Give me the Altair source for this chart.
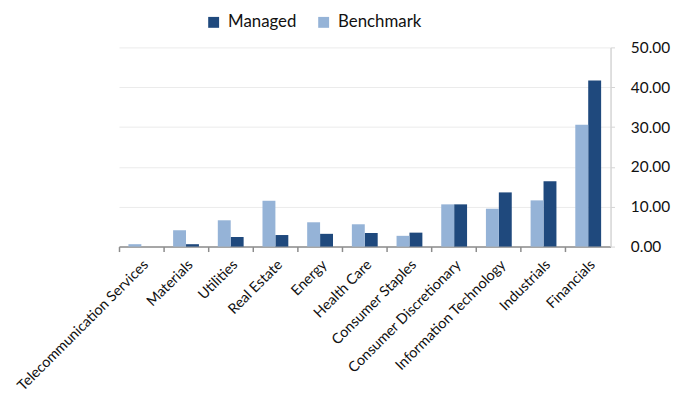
import altair as alt
import pandas as pd

sectors = ["Telecommunication Services", "Materials", "Utilities", "Real Estate", "Energy",
           "Health Care", "Consumer Staples", "Consumer Discretionary",
           "Information Technology", "Industrials", "Financials"]
managed = [0.0, 0.6, 2.4, 2.9, 3.2, 3.4, 3.5, 10.6, 13.6, 16.4, 41.7]
benchmark = [0.6, 4.1, 6.6, 11.5, 6.1, 5.6, 2.7, 10.6, 9.5, 11.6, 30.6]
series = ["Managed", "Benchmark"]
y_ticks = [0, 10, 20, 30, 40, 50]

rows = []
for s, m, b in zip(sectors, managed, benchmark):
    rows.append({"Sector": s, "Series": "Managed", "Value": m})
    rows.append({"Sector": s, "Series": "Benchmark", "Value": b})
df = pd.DataFrame(rows)

FONT = "Lato"

chart = alt.Chart(df).mark_bar().encode(
    x=alt.X("Sector:N", sort=sectors,
            scale=alt.Scale(paddingInner=0, paddingOuter=0),
            axis=alt.Axis(title=None, labelAngle=-45, bandPosition=0, ticks=True,
                          tickSize=5, tickColor="#8c8c8c", domainColor="#8c8c8c",
                          domainWidth=1.5, tickWidth=1.5, grid=False, labelFontSize=14.5,
                          labelColor="#111111", labelFont=FONT, labelPadding=6)),
    xOffset=alt.XOffset("Series:N", sort=["Benchmark", "Managed"],
                        scale=alt.Scale(paddingOuter=0.73, paddingInner=0)),
    y=alt.Y("Value:Q", scale=alt.Scale(domain=[0, 50]),
            axis=alt.Axis(title=None, orient="right", values=y_ticks, format=".2f",
                          labelFontSize=15.5, labelColor="#111111", labelFont=FONT,
                          domainColor="#d4d4d4", domainWidth=1.5, tickColor="#d4d4d4",
                          tickSize=4, labelPadding=16, gridColor="#ebebeb", gridWidth=1)),
    color=alt.Color("Series:N", scale=alt.Scale(domain=series, range=["#1F497D", "#95B3D7"]),
                    legend=alt.Legend(title=None, orient="none", legendX=87, legendY=-34,
                                      direction="horizontal", symbolType="square",
                                      symbolSize=121, symbolStrokeWidth=0,
                                      labelFontSize=17, labelFont=FONT, labelColor="#111111",
                                      columnPadding=18, labelOffset=6)),
).properties(
    width=496, height=201,
    autosize=alt.AutoSizeParams(type="none"),
    padding={"left": 112, "top": 38, "right": 62, "bottom": 146},
).configure_view(stroke=None)

chart.save("out.html", embed_options={"renderer": "svg", "actions": False})
